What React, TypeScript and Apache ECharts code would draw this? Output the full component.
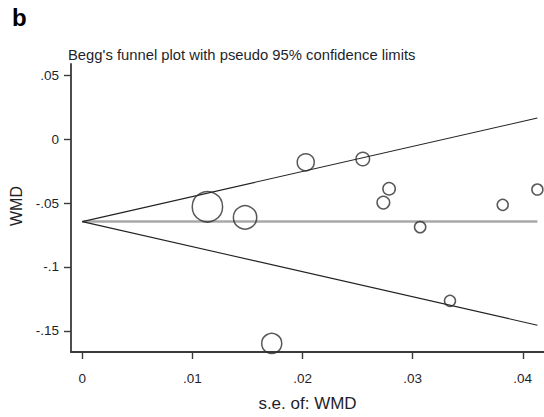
import React, { useEffect, useRef } from "react";
import * as echarts from "echarts";

// Study-level estimates: standard error and weighted mean difference
const studySE = [0.01136, 0.01478, 0.02029, 0.02547, 0.02786, 0.02734, 0.03068, 0.03818, 0.04133, 0.03339, 0.0172];
const studyWMD = [-0.0529, -0.0612, -0.0181, -0.0155, -0.0388, -0.0496, -0.0688, -0.0514, -0.0394, -0.1265, -0.1598];

// Pooled (fixed-effect) estimate and z for pseudo 95% limits
const pooledWMD = -0.0645;
const z95 = 1.96;

const xTicks = [0, 0.01, 0.02, 0.03, 0.04];
const yTicks = [-0.15, -0.1, -0.05, 0, 0.05];

const FONT = "'Liberation Sans', Arial, Helvetica, sans-serif";
const TEXT = "#1f1f2a";
const AXIS = "#3a3a3a";

const fmt = (v: number) => {
  if (Math.abs(v) < 1e-12) return "0";
  return String(+v.toFixed(3)).replace("0.", ".");
};

export default function App() {
  const ref = useRef<HTMLDivElement>(null);

  useEffect(() => {
    if (!ref.current) return;
    const chart = echarts.init(ref.current, undefined, { renderer: "svg" });

    const maxSE = Math.max(...studySE);
    const points = studySE.map((s, i) => [s, studyWMD[i]]);

    chart.setOption({
      animation: false,
      backgroundColor: "#ffffff",
      grid: { left: 71, right: 0, top: 64, bottom: 59.5, containLabel: false },
      xAxis: {
        type: "value",
        min: -0.00103,
        max: 0.04193,
        splitLine: { show: false },
        axisLine: { show: true, onZero: false, lineStyle: { color: AXIS, width: 1.8 } },
        axisTick: { show: true, customValues: xTicks, length: 7, lineStyle: { color: AXIS, width: 1.4 } },
        axisLabel: {
          customValues: xTicks,
          formatter: fmt,
          margin: 19,
          fontSize: 13.5,
          fontFamily: FONT,
          color: TEXT,
        },
        name: "s.e. of: WMD",
        nameLocation: "middle",
        nameGap: 43,
        nameTextStyle: { fontSize: 17, fontFamily: FONT, color: TEXT },
      },
      yAxis: {
        type: "value",
        min: -0.1665,
        max: 0.0588,
        splitLine: { show: false },
        axisLine: { show: true, onZero: false, lineStyle: { color: AXIS, width: 1.8 } },
        axisTick: { show: true, customValues: yTicks, length: 7, lineStyle: { color: AXIS, width: 1.4 } },
        axisLabel: {
          customValues: yTicks,
          formatter: fmt,
          margin: 12,
          fontSize: 13.5,
          fontFamily: FONT,
          color: TEXT,
        },
      },
      graphic: [
        {
          type: "text",
          left: 12,
          top: 5,
          style: { text: "b", font: `bold 24px ${FONT}`, fill: "#000" },
        },
        {
          type: "text",
          left: 68,
          top: 47,
          style: {
            text: "Begg's funnel plot with pseudo 95% confidence limits",
            font: `14.8px ${FONT}`,
            fill: TEXT,
          },
        },
        {
          type: "text",
          x: 16,
          y: 206,
          rotation: Math.PI / 2,
          style: {
            text: "WMD",
            font: `16px ${FONT}`,
            fill: TEXT,
            align: "center",
            verticalAlign: "middle",
          },
        },
      ],
      series: [
        {
          type: "line",
          data: [
            [0, pooledWMD],
            [maxSE, pooledWMD],
          ],
          symbol: "none",
          lineStyle: { color: "#a8a8a8", width: 2.5 },
          silent: true,
          z: 1,
        },
        {
          type: "line",
          data: [
            [0, pooledWMD],
            [maxSE, pooledWMD + z95 * maxSE],
          ],
          symbol: "none",
          lineStyle: { color: "#222", width: 1.1 },
          silent: true,
          z: 2,
        },
        {
          type: "line",
          data: [
            [0, pooledWMD],
            [maxSE, pooledWMD - z95 * maxSE],
          ],
          symbol: "none",
          lineStyle: { color: "#222", width: 1.1 },
          silent: true,
          z: 2,
        },
        {
          type: "scatter",
          data: points,
          symbol: "circle",
          // marker area proportional to inverse variance weight
          symbolSize: (v: number[]) => Math.max(11, 0.345 / v[0]),
          itemStyle: { color: "rgba(255,255,255,0)", borderColor: "#2e2e2e", borderWidth: 1.5 },
          z: 3,
        },
      ],
    });

    return () => chart.dispose();
  }, []);

  return (
    <div
      ref={ref}
      style={{ position: "fixed", left: 0, top: 0, width: 544, height: 417 }}
    />
  );
}
